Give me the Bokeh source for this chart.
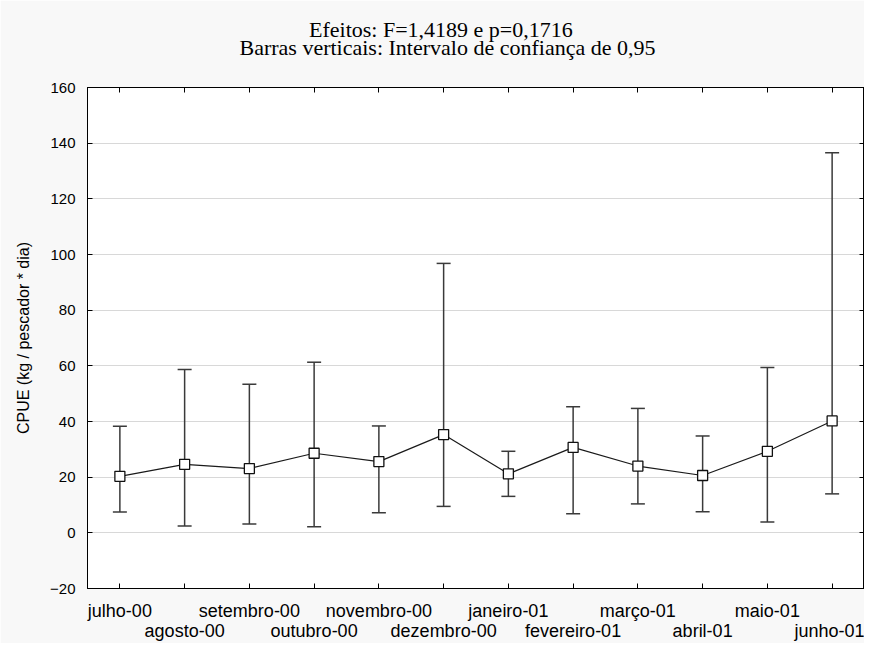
from bokeh.plotting import figure
from bokeh.models import (Range1d, LinearAxis, FixedTicker, Title,
                          ColumnDataSource, CustomJSTickFormatter)
from bokeh.embed import file_html
from bokeh.resources import INLINE

# ---- data ----
months = ["julho-00", "agosto-00", "setembro-00", "outubro-00", "novembro-00",
          "dezembro-00", "janeiro-01", "fevereiro-01", "março-01", "abril-01",
          "maio-01", "junho-01"]
positions = list(range(1, len(months) + 1))
means = [20.3, 24.6, 23.1, 28.6, 25.6, 35.3, 21.2, 30.7, 24.0, 20.6, 29.3, 40.2]
upper = [38.3, 58.7, 53.4, 61.3, 38.4, 96.8, 29.3, 45.3, 44.7, 34.8, 59.4, 136.6]
lower = [7.5, 2.5, 3.2, 2.2, 7.2, 9.5, 13.1, 6.9, 10.4, 7.6, 3.9, 14.0]
y_ticks = [-20, 0, 20, 40, 60, 80, 100, 120, 140, 160]
title_line1 = "Efeitos: F=1,4189 e p=0,1716"
title_line2 = "Barras verticais: Intervalo de confiança de 0,95"
y_label = "CPUE (kg / pescador * dia)"

src = ColumnDataSource(dict(x=positions, mean=means, upper=upper, lower=lower))

SANS = "Liberation Sans"
SERIF = "Liberation Serif"

p = figure(width=864, height=643, x_range=Range1d(0.5, 12.5),
           y_range=Range1d(-20, 160), output_backend="svg",
           toolbar_location=None, title=None,
           min_border_left=87, min_border_right=0, min_border_top=87,
           min_border_bottom=55)
p.border_fill_color = "#f8f8f8"
p.background_fill_color = "white"
p.outline_line_color = "black"
p.outline_line_width = 1

blank = CustomJSTickFormatter(code="return ''")

# y axis (left)
ya = p.yaxis[0]
ya.ticker = FixedTicker(ticks=y_ticks)
ya.axis_label = y_label
ya.axis_label_text_font = SANS
ya.axis_label_text_font_size = "16px"
ya.axis_label_text_font_style = "normal"
ya.axis_label_text_color = "black"
ya.axis_label_standoff = 15
ya.major_label_text_font = SANS
ya.major_label_text_font_size = "15px"
ya.major_label_text_color = "black"
ya.major_label_standoff = 12
ya.major_tick_in = 5
ya.major_tick_out = 0
ya.minor_tick_line_color = None
ya.axis_line_color = "black"
ya.major_tick_line_color = "black"

# x axis, first row (below): ticks at every month, labels on odd months
xa = p.xaxis[0]
xa.ticker = FixedTicker(ticks=positions)
xa.major_label_overrides = {pos: (m if i % 2 == 0 else "")
                            for i, (pos, m) in enumerate(zip(positions, months))}
xa.major_label_text_font = SANS
xa.major_label_text_font_size = "18px"
xa.major_label_text_color = "black"
xa.major_label_standoff = 12
xa.major_tick_in = 5
xa.major_tick_out = 0
xa.axis_line_color = "black"
xa.major_tick_line_color = "black"
xa.minor_tick_line_color = None

# x axis, second row: labels on even months
even_pos = positions[1::2]
xa2 = LinearAxis(
    ticker=FixedTicker(ticks=even_pos),
    major_label_overrides={pos: m for pos, m in zip(positions, months) if pos in even_pos},
    major_label_text_font=SANS, major_label_text_font_size="18px",
    major_label_text_color="black", major_label_standoff=-9,
    major_tick_line_color=None, axis_line_color=None,
    minor_tick_line_color=None)
p.add_layout(xa2, "below")

# right axis (ticks only)
ra = LinearAxis(ticker=FixedTicker(ticks=y_ticks), formatter=blank,
                major_label_standoff=0, major_tick_in=5, major_tick_out=0,
                minor_tick_line_color=None, axis_line_color="black",
                major_tick_line_color="black")
p.add_layout(ra, "right")

# top axis (ticks only)
ta = LinearAxis(ticker=FixedTicker(ticks=positions), formatter=blank,
                major_label_standoff=0, major_tick_in=5, major_tick_out=0,
                minor_tick_line_color=None, axis_line_color="black",
                major_tick_line_color="black")
p.add_layout(ta, "above")

# two-line title (the first one added sits nearest the plot)
t2 = Title(text=title_line2, align="left", offset=152, standoff=54.5,
           vertical_align="bottom", text_font=SERIF, text_font_size="22px",
           text_font_style="normal", text_color="black")
t1 = Title(text=title_line1, align="left", offset=221.5, standoff=-72.5,
           vertical_align="bottom", text_font=SERIF, text_font_size="22px",
           text_font_style="normal", text_color="black")
p.add_layout(t2, "above")
p.add_layout(t1, "above")

# grid
p.xgrid.grid_line_color = None
p.ygrid.ticker = FixedTicker(ticks=y_ticks)
p.ygrid.grid_line_color = "#b0b0b0"
p.ygrid.grid_line_dash = "1 1"
p.ygrid.grid_line_width = 1

# error bars
p.segment(x0="x", y0="lower", x1="x", y1="upper", source=src,
          line_color="#3a3a3a", line_width=1.5)
p.scatter(x="x", y="upper", source=src, marker="dash", size=14,
          line_color="#3a3a3a", line_width=1.5)
p.scatter(x="x", y="lower", source=src, marker="dash", size=14,
          line_color="#3a3a3a", line_width=1.5)

# mean line and markers
p.line(x="x", y="mean", source=src, line_color="#1a1a1a", line_width=1.2)
p.scatter(x="x", y="mean", source=src, marker="square", size=10,
          fill_color="white", line_color="#111111", line_width=1.3)

open("out.html", "w").write(file_html(p, INLINE))
